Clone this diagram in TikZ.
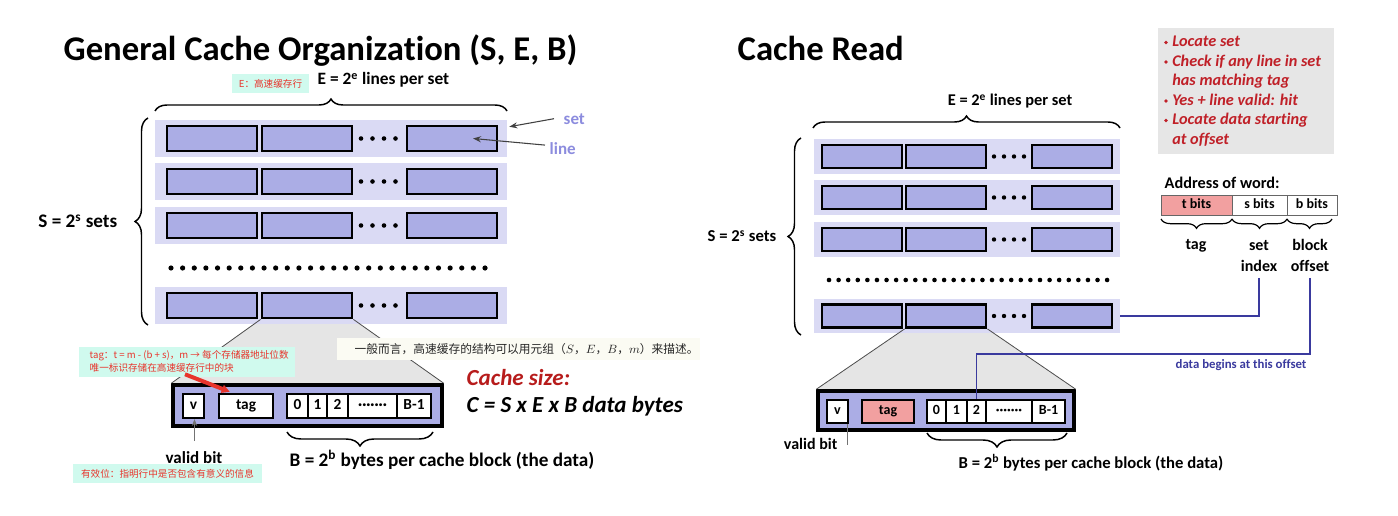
\documentclass[tikz,border=0pt]{standalone}
\usepackage{fontspec}
\setmainfont{Carlito}[Ligatures=NoCommon]
\newfontfamily\cjk{Noto Sans CJK SC}
\usetikzlibrary{decorations.pathreplacing,arrows.meta,calc,fit,backgrounds}
\definecolor{setbg}{RGB}{218,218,244}
\definecolor{linefill}{RGB}{171,173,229}
\definecolor{lbl}{RGB}{140,140,222}
\definecolor{trapc}{RGB}{229,229,229}
\definecolor{mint}{RGB}{208,250,238}
\definecolor{annred}{RGB}{232,52,44}
\definecolor{darkred}{RGB}{183,28,28}
\definecolor{bulred}{RGB}{192,32,40}
\definecolor{graybox}{RGB}{230,230,230}
\definecolor{pinkc}{RGB}{242,160,160}
\definecolor{blueln}{RGB}{58,58,158}
\definecolor{cream}{RGB}{251,251,243}
\newcommand\mytitle{\fontsize{26}{30}\selectfont\bfseries}
\newcommand\myLE{\fontsize{13}{15}\selectfont\bfseries}
\newcommand\myRE{\fontsize{12.3}{15}\selectfont\bfseries}
\newcommand\myLmid{\fontsize{14.4}{17}\selectfont\bfseries}
\newcommand\myRmid{\fontsize{12.5}{15}\selectfont\bfseries}
\newcommand\mylbl{\fontsize{12.75}{15}\selectfont\bfseries}
\newcommand\myLcell{\fontsize{11.5}{13}\selectfont\bfseries}
\newcommand\myRcell{\fontsize{10.5}{12}\selectfont\bfseries}
\newcommand\mybig{\fontsize{17.25}{20}\selectfont\bfseries\itshape}
\newcommand\mybul{\fontsize{12.2}{14}\selectfont\bfseries\itshape}
\newcommand\myaddr{\fontsize{10.5}{12}\selectfont\bfseries}
\newcommand\mysmallblue{\fontsize{9.6}{11}\selectfont\bfseries}
\newcommand\myann{\cjk\fontsize{7.2}{8.5}\selectfont}
\newcommand\mkcell[7]{%
  \node[#2, fit={(#3,#4) (#5,#6)}] (#1) {};
  \node[#2txt] (#1t) at (#1.center) {#7};}
\tikzset{
  setrow/.style={fill=setbg, draw=none, inner sep=0pt},
  linebox/.style={fill=linefill, draw=black, line width=2.1pt, inner sep=0pt},
  bigline/.style={fill=linefill, draw=black, line width=2.6pt, inner sep=0pt},
  cellL/.style={fill=white, draw=black, line width=1.8pt, inner sep=0pt},
  cellLtxt/.style={anchor=mid, inner sep=0pt, font=\myLcell},
  cellR/.style={fill=white, draw=black, line width=1.6pt, inner sep=0pt},
  cellRtxt/.style={anchor=mid, inner sep=0pt, font=\myRcell},
  cellRpink/.style={cellR, fill=pinkc},
  cellRpinktxt/.style={cellRtxt},
  addr/.style={fill=white, draw=black!60, line width=0.6pt, inner sep=0pt},
  addrtxt/.style={anchor=mid, inner sep=0pt, font=\myaddr},
  addrpink/.style={addr, fill=pinkc},
  addrpinktxt/.style={addrtxt},
  brc/.style={decorate, decoration={brace, amplitude=#1}, line width=1.1pt},
  mintbox/.style={fill=mint, inner sep=0pt},
  ptr/.style={-{Stealth[length=6pt,width=4.5pt]}, line width=0.8pt, draw=black!75},
  trapline/.style={draw=black!70, line width=0.6pt},
  blueline/.style={draw=blueln, line width=1.3pt},
  bul/.style={anchor=base west, font=\mybul, text=bulred, inner sep=0pt},
  addrlbl/.style={anchor=base, font=\fontsize{12}{14}\selectfont\bfseries},
}
\begin{document}
\begin{tikzpicture}[x=0.75pt,y=-0.75pt]
\useasboundingbox (0,0) rectangle (1398,516);

%================ LEFT PANEL ================
\node[anchor=base west, font=\mytitle] (Ltitle) at (59,61) {General Cache Organization (S, E, B)};
\node[mintbox, fit={(232,74) (309,93)}] (LEann) {};
\node[font=\myann, text=annred] (LEanntxt) at (LEann.center) {E：高速缓存行};
\node[anchor=base west, font=\myLE] (LE) at (313,85) {E = 2\textsuperscript{e} lines per set};
\draw[brc=9pt] (155,111) -- (507,111);

\foreach \n/\ya/\yb in {1/120/157,2/163/200,3/207/244,4/287/324}{
  \pgfmathsetmacro\ym{(\ya+\yb)/2}
  \node[setrow, fit={(155,\ya) (507,\yb)}] (Lr\n) {};
  \node[linebox, fit={(167,\ym-12.5) (257,\ym+12.5)}] (Lb\n-1) {};
  \node[linebox, fit={(262,\ym-12.5) (352,\ym+12.5)}] (Lb\n-2) {};
  \node[linebox, fit={(407,\ym-12.5) (497,\ym+12.5)}] (Lb\n-3) {};
  \foreach \dx in {361,372.5,384,395.5} \fill (\dx,\ym) circle (2.3);
}
\foreach \i in {0,...,27} \fill (171+\i*11.63,268) circle (2.6);

\draw[brc=9.75pt] (148,325) -- (148,118);
\node[anchor=base east, font=\myLmid] (LS) at (122,228) {S = 2\textsuperscript{s} sets};

\node[anchor=base west, font=\mylbl, text=lbl] (Lset) at (559,125) {set};
\node[anchor=base west, font=\mylbl, text=lbl] (Lline) at (545,155) {line};
\draw[ptr] ($(Lset.west)+(-5,-1)$) -- ($(Lr1.north east)+(2,7)$);
\draw[ptr] ($(Lline.west)+(0,-4)$) -- ($(Lb1-3.center)+(21,0)$);

% expanded line
\node[bigline, fit={(173,385) (442,426)}] (LB) {};
\begin{scope}[on background layer]
  \fill[trapc] (Lb4-2.south west) -- (Lb4-2.south east) -- (LB.north east) -- (LB.north west) -- cycle;
\end{scope}
\draw[trapline] (Lb4-2.south west) -- (LB.north west);
\draw[trapline] (Lb4-2.south east) -- (LB.north east);
\mkcell{Lv}{cellL}{183}{394}{204}{418}{v}
\mkcell{Ltag}{cellL}{219}{394}{273}{418}{tag}
\mkcell{Lc0}{cellL}{287}{394}{308}{418}{0}
\mkcell{Lc1}{cellL}{308}{394}{327}{418}{1}
\mkcell{Lc2}{cellL}{327}{394}{348}{418}{2}
\mkcell{Lcd}{cellL}{348}{394}{397}{418}{·······}
\mkcell{LcB}{cellL}{397}{394}{431}{418}{B-1}
\draw[brc=10.5pt] (433,432) -- (287,432);
\node[anchor=base, font=\myLmid] (LBtxt) at (442,466) {B = 2\textsuperscript{b} bytes per cache block (the data)};

\node[anchor=base, font=\mylbl] (Lvalid) at (194,463) {valid bit};
\draw[-{Stealth[length=5pt,width=4pt]}, line width=0.8pt, draw=black!55] ($(Lv.south)+(1,22)$) -- ($(Lv.south)+(1,0)$);
\node[mintbox, fit={(73,464) (262,483)}] (Lvann) {};
\node[font=\myann, text=annred] (Lvanntxt) at (Lvann.center) {有效位：指明行中是否包含有意义的信息};

\node[mintbox, fit={(79,347) (295,377)}] (Ltagann) {};
\node[font=\myann, text=annred, anchor=west] (Ltagann1) at (85,356) {tag：t = m - (b + s)，m → 每个存储器地址位数};
\node[font=\myann, text=annred, anchor=west] (Ltagann2) at (85,367.5) {唯一标识存储在高速缓存行中的块};
\draw[-{Triangle[length=6pt,width=6pt]}, line width=3pt, draw=annred] ($(Ltagann.south)+(-2,-3)$) -- ($(Ltag.north west)+(12,-1)$);

\node[fill=cream, inner sep=0pt, fit={(337,338) (700,360)}] (Lcn) {};
\node[anchor=west, font=\cjk\fontsize{8.8}{10}\selectfont, text=black!85] (Lcntxt) at (350,349) {一般而言，高速缓存的结构可以用元组（$S$，$E$，$B$，$m$）来描述。};

\node[anchor=base west, font=\mybig, text=darkred] (Lcs) at (462,385) {Cache size:};
\node[anchor=base west, font=\mybig] (Lcf) at (462,412) {C = S x E x B data bytes};

%================ RIGHT PANEL ================
\node[anchor=base west, font=\mytitle] (Rtitle) at (733,61) {Cache Read};
\node[fill=graybox, inner sep=0pt, fit={(1158,28) (1334,154)}] (GB) {};
\foreach \yy in {47,66.5,105.5,125} \fill[bulred] (1166,\yy-4.5) circle (1.9);
\node[bul] (B1) at (1172,47) {Locate set};
\node[bul] (B2) at (1172,66.5) {Check if any line in set};
\node[bul] (B3) at (1172,86) {has matching tag};
\node[bul] (B4) at (1172,105.5) {Yes + line valid: hit};
\node[bul] (B5) at (1172,125) {Locate data starting};
\node[bul] (B6) at (1172,144.5) {at offset};

\node[anchor=base, font=\myRE] (RE) at (1010,106) {E = 2\textsuperscript{e} lines per set};
\draw[brc=9pt] (813,128) -- (1120,128);

\foreach \n/\ya/\yb in {1/139/174,2/180/215,3/222/257,4/299/333}{
  \pgfmathsetmacro\ym{(\ya+\yb)/2}
  \node[setrow, fit={(814,\ya) (1120,\yb)}] (Rr\n) {};
  \node[linebox, fit={(822,\ym-11.5) (902,\ym+11.5)}] (Rb\n-1) {};
  \node[linebox, fit={(906,\ym-11.5) (986,\ym+11.5)}] (Rb\n-2) {};
  \node[linebox, fit={(1032,\ym-11.5) (1112,\ym+11.5)}] (Rb\n-3) {};
  \foreach \dx in {994,1004,1014,1024} \fill (\dx,\ym) circle (2.2);
}
\foreach \i in {0,...,29} \fill (829+\i*9.59,280) circle (2.3);
\draw[brc=9.75pt] (801,335) -- (801,138);
\node[anchor=base east, font=\myRmid] (RS) at (781,242) {S = 2\textsuperscript{s} sets};

% address
\node[anchor=base west, font=\fontsize{12.2}{14}\selectfont\bfseries] (Raddr) at (1160,189) {Address of word:};
\mkcell{At}{addrpink}{1161}{195}{1232}{215}{t bits}
\mkcell{As}{addr}{1232}{195}{1287}{215}{s bits}
\mkcell{Ab}{addr}{1287}{195}{1337}{215}{b bits}
\draw[brc=7pt, line width=0.9pt] (1232,219) -- (1161,219);
\draw[brc=7pt, line width=0.9pt] (1287,219) -- (1232,219);
\draw[brc=7pt, line width=0.9pt] (1332,219) -- (1287,219);
\node[addrlbl] (Atag) at (1196,250) {tag};
\node[addrlbl] (Aset) at (1259,251) {set};
\node[addrlbl] (Aidx) at (1259,272) {index};
\node[addrlbl] (Ablk) at (1310,251) {block};
\node[addrlbl] (Aoff) at (1310,272) {offset};

% expanded line
\node[bigline, fit={(818,391) (1074,430)}] (RB) {};
\begin{scope}[on background layer]
  \fill[trapc] (Rb4-2.south west) -- (Rb4-2.south east) -- (RB.north east) -- (RB.north west) -- cycle;
\end{scope}
\draw[trapline] (Rb4-2.south west) -- (RB.north west);
\draw[trapline] (Rb4-2.south east) -- (RB.north east);
\mkcell{Rv}{cellR}{827}{400}{848}{423}{v}
\mkcell{Rtag}{cellRpink}{862}{400}{914}{423}{tag}
\mkcell{Rc0}{cellR}{927}{400}{946}{423}{0}
\mkcell{Rc1}{cellR}{946}{400}{967}{423}{1}
\mkcell{Rc2}{cellR}{967}{400}{986}{423}{2}
\mkcell{Rcd}{cellR}{986}{400}{1032}{423}{·······}
\mkcell{RcB}{cellR}{1032}{400}{1065}{423}{B-1}
\draw[brc=10.5pt] (1067,433) -- (927,433);
\node[anchor=base, font=\myRmid] (RBtxt) at (1091,468) {B = 2\textsuperscript{b} bytes per cache block (the data)};

\node[anchor=base east, font=\fontsize{12}{14}\selectfont\bfseries] (Rvalid) at (842,449) {valid bit};
\draw[line width=0.8pt, draw=black!55] ($(Rv.south east)+(-1.5,0)$) -- ++(0,21);

% blue pointers
\draw[blueline] ($(Aidx.south)+(0,1)$) |- (Rr4.east);
\draw[blueline] ($(Aoff.south)+(0,1)$) |- ($(Rc2.north)+(0,-45)$) -- (Rc2.north);
\node[font=\mysmallblue, text=blueln] (Rdata) at (1241,365) {data begins at this offset};
\end{tikzpicture}
\end{document}
